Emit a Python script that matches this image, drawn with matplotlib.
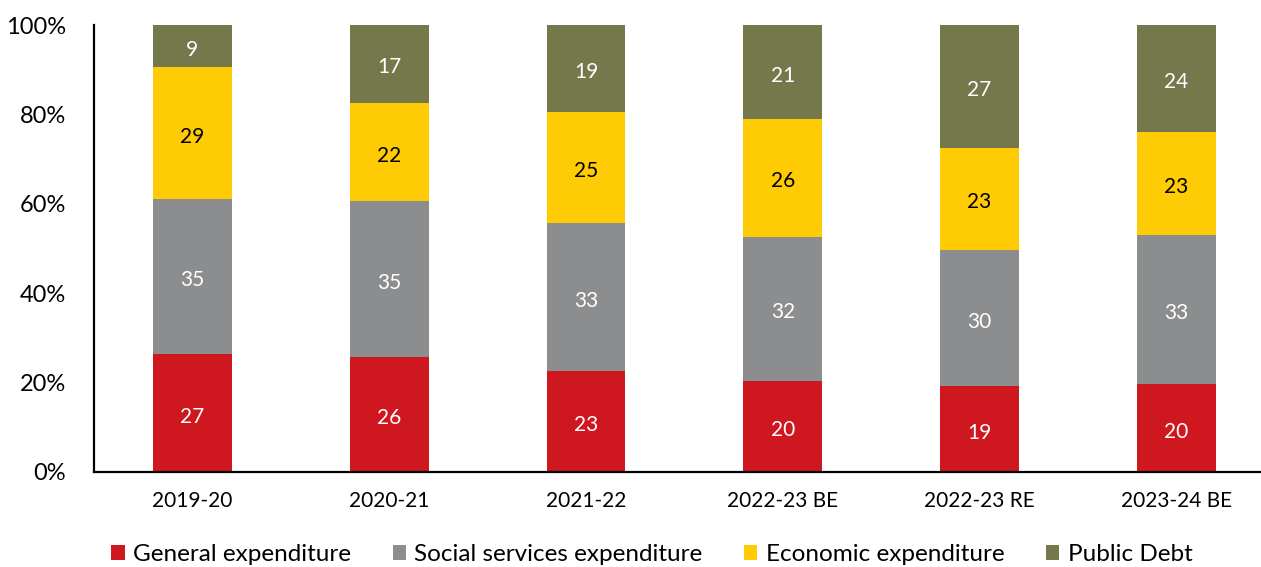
import numpy as np
import matplotlib.pyplot as plt

years = ["2019-20", "2020-21", "2021-22", "2022-23 BE", "2022-23 RE", "2023-24 BE"]
series_names = ["General expenditure", "Social services expenditure",
                "Economic expenditure", "Public Debt"]

# shares (%) as drawn
general = [26.4, 25.7, 22.6, 20.4, 19.2, 19.7]
social = [34.7, 34.9, 33.1, 32.2, 30.5, 33.3]
economic = [29.5, 22.0, 24.8, 26.4, 22.8, 23.1]
debt = [9.4, 17.4, 19.5, 21.0, 27.5, 23.9]

# labels as printed on the bars
general_lbl = [27, 26, 23, 20, 19, 20]
social_lbl = [35, 35, 33, 32, 30, 33]
economic_lbl = [29, 22, 25, 26, 23, 23]
debt_lbl = [9, 17, 19, 21, 27, 24]

colors = ["#CE171F", "#8C8D8F", "#FFCB05", "#75784A"]
text_colors = ["white", "white", "black", "white"]
font = "Lato"

fig = plt.figure(figsize=(12.61, 5.67), dpi=100)
ax = fig.add_axes([94 / 1261, 1 - 472 / 567, 1 - 94 / 1261, 447 / 567])

x = np.arange(len(years))
data = [general, social, economic, debt]
labels = [general_lbl, social_lbl, economic_lbl, debt_lbl]
bottom = np.zeros(len(years))
for vals, lbls, c, tc, name in zip(data, labels, colors, text_colors, series_names):
    vals = np.array(vals)
    ax.bar(x, vals, 0.40, bottom=bottom, color=c, label=name)
    for xi, b, v, l in zip(x, bottom, vals, lbls):
        ax.text(xi, b + v / 2 - 0.8, str(l), ha="center", va="center",
                color=tc, fontsize=15, family=font)
    bottom += vals

ax.set_xlim(-0.5, 5.43)
ax.set_ylim(0, 100)
ax.set_yticks(range(0, 101, 20))
ax.set_yticklabels([f"{v}%" for v in range(0, 101, 20)], family=font, fontsize=17)
ax.set_xticks(x)
ax.set_xticklabels(years, family=font, fontsize=15)
ax.tick_params(axis="y", length=0, pad=20)
ax.tick_params(axis="x", length=0, pad=14)
for s in ["top", "right"]:
    ax.spines[s].set_visible(False)
for s in ["left", "bottom"]:
    ax.spines[s].set_linewidth(1.6)
    ax.spines[s].set_color("black")

fig.legend(loc="center", bbox_to_anchor=(0.517, 0.022), ncol=4, frameon=False,
           prop={"family": font, "size": 17.5}, handlelength=0.55, handleheight=0.55,
           handletextpad=0.35, columnspacing=1.7)

fig.savefig("out.png", dpi=100)
